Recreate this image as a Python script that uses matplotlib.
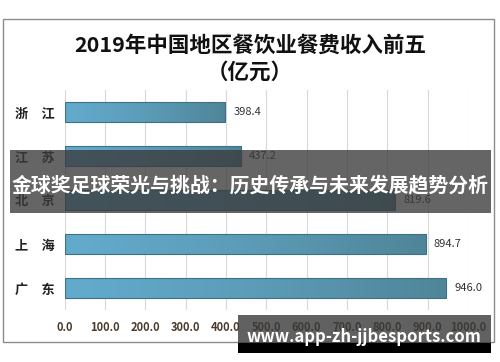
import numpy as np
import matplotlib.pyplot as plt
from matplotlib.patches import Rectangle
from matplotlib.colors import LinearSegmentedColormap

plt.rcParams['font.family'] = ['Noto Sans CJK SC', 'DejaVu Sans']

regions = ['浙\u3000江', '江\u3000苏', '北\u3000京', '上\u3000海', '广\u3000东']
revenue = [398.4, 437.2, 819.6, 894.7, 946.0]
x_ticks = [0, 100, 200, 300, 400, 500, 600, 700, 800, 900, 1000]
title = '2019年中国地区餐饮业餐费收入前五\n（亿元）'
banner_text = '金球奖足球荣光与挑战：历史传承与未来发展趋势分析'
watermark = 'www.app-zh-jjbesports.com'

W, H = 500, 362
fig = plt.figure(figsize=(W / 100, H / 100), dpi=100)

# outer frame of the original chart
fig.patches.append(Rectangle((3 / W, 1 - 342 / H), 491 / W, 323 / H,
                             transform=fig.transFigure, fill=False,
                             edgecolor='#8c8c8c', linewidth=1))

line1, line2 = title.split('\n')
fig.text(0.5, 1 - 45 / H, line1, ha='center', va='center',
         fontsize=15.5, fontweight='bold', color='#111111')
fig.text(0.5, 1 - 72 / H, line2, ha='center', va='center',
         fontsize=15.5, fontweight='bold', color='#111111')

ax = fig.add_axes([64.7 / W, 1 - 310 / H, 403.3 / W, 220 / H])

# horizontal gradient for the bars
grad = np.linspace(0, 1, 256).reshape(1, -1)
cmap = LinearSegmentedColormap.from_list('bar', ['#63abcd', '#5c9cb8', '#4f8598'])

bar_h = 0.45
for i, v in enumerate(revenue):
    ax.imshow(grad, cmap=cmap, aspect='auto', zorder=2,
              extent=[0, v, i + bar_h / 2, i - bar_h / 2])
    ax.add_patch(Rectangle((0, i - bar_h / 2), v, bar_h, fill=False,
                           edgecolor='#3f7186', linewidth=0.8, zorder=3))
    ax.text(v + 20, i, f'{v:.1f}', va='center', ha='left',
            fontsize=8, color='#333333', zorder=4)

ax.set_xlim(0, 1000)
ax.set_ylim(len(regions) - 0.5, -0.5)
ax.set_yticks(range(len(regions)))
ax.set_yticklabels(regions, fontsize=9.5, fontweight='bold', color='#222222')
for lbl in ax.get_yticklabels():
    lbl.set_horizontalalignment('left')
ax.set_xticks(x_ticks)
ax.set_xticklabels([f'{t:.1f}' for t in x_ticks], fontsize=8,
                   fontweight='bold', color='#4a3a2a')
ax.tick_params(axis='x', length=0, pad=8)
ax.tick_params(axis='y', length=0, pad=36)
ax.grid(axis='x', color='#d9d9d9', linewidth=0.8, zorder=0)
ax.set_axisbelow(True)
for s in ax.spines.values():
    s.set_visible(False)

# overlay banner
fig.patches.append(Rectangle((10 / W, 1 - 213 / H), 481 / W, 63 / H,
                             transform=fig.transFigure, facecolor='#3a3a3a',
                             alpha=0.78, zorder=10))
fig.text(0.5, 1 - 185 / H, banner_text, ha='center', va='center',
         fontsize=14.3, fontweight='bold', color='white', zorder=11)

# watermark box
fig.patches.append(Rectangle((238 / W, 1 - 343 / H), 253 / W, 28 / H,
                             transform=fig.transFigure, facecolor='#3a3a3a',
                             alpha=0.8, zorder=10))
fig.patches.append(Rectangle((238 / W, 1 - 353 / H), 253 / W, 10 / H,
                             transform=fig.transFigure, facecolor='black',
                             zorder=10))
fig.text(364 / W, 1 - 337 / H, watermark, ha='center', va='center',
         fontsize=12, fontweight='bold', color='white', zorder=11)

fig.savefig('out.png', dpi=100)
